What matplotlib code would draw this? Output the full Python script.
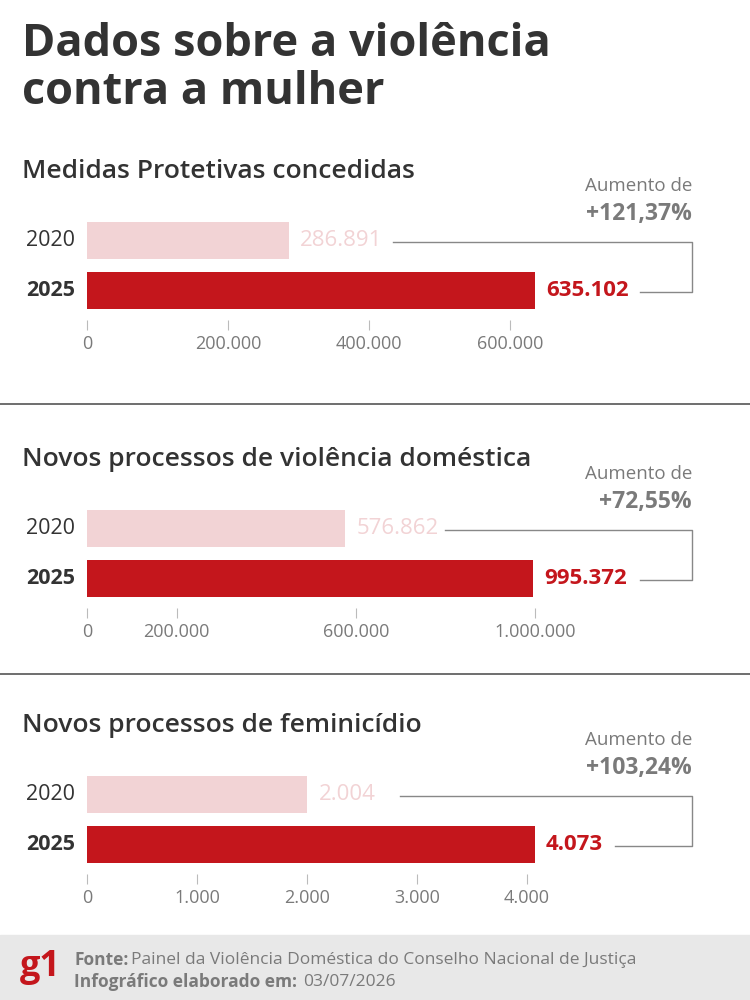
import matplotlib.pyplot as plt

plt.rcParams['font.family'] = ['Open Sans', 'DejaVu Sans']

titles = ['Medidas Protetivas concedidas',
          'Novos processos de violência doméstica',
          'Novos processos de feminicídio']
years = ['2020', '2025']
values = [[286891, 635102], [576862, 995372], [2004, 4073]]
value_labels = [['286.891', '635.102'], ['576.862', '995.372'], ['2.004', '4.073']]
increase = ['+121,37%', '+72,55%', '+103,24%']
ticks = [[0, 200000, 400000, 600000], [0, 200000, 600000, 1000000], [0, 1000, 2000, 3000, 4000]]
tick_labels = [['0', '200.000', '400.000', '600.000'],
               ['0', '200.000', '600.000', '1.000.000'],
               ['0', '1.000', '2.000', '3.000', '4.000']]

RED = '#C4161C'
PINK = '#F2D3D5'
GRAY = '#7a7a7a'
DARK = '#333333'

W, H = 750, 1000
fig = plt.figure(figsize=(7.5, 10), dpi=100)
bg = fig.add_axes([0, 0, 1, 1])
bg.set_xlim(0, W)
bg.set_ylim(H, 0)
bg.axis('off')

bg.text(22, 22, 'Dados sobre a violência\ncontra a mulher', fontsize=32.5, fontweight='bold',
        color=DARK, va='top', ha='left', linespacing=1.1)

# panel layout: subtitle row in px
tops = [172, 460, 726]
for i, top in enumerate(tops):
    bg.text(22, top, titles[i], fontsize=19, fontweight='semibold', color=DARK, va='center')
    bg.text(692, top + 14, 'Aumento de', fontsize=13.5, color=GRAY, ha='right', va='center')
    bg.text(692, top + 42, increase[i], fontsize=16.5, fontweight='bold', color=GRAY, ha='right', va='center')

    y_top = top + 38  # axes top (px)
    ax = fig.add_axes([87 / W, 1 - (y_top + 110) / H, 448 / W, 110 / H])
    vmax = max(values[i])
    ax.barh([0, 1], values[i], height=0.74, color=[PINK, RED])
    ax.set_xlim(0, vmax)
    ax.set_ylim(1.6, -0.6)
    ax.set_yticks([])
    ax.set_xticks(ticks[i])
    ax.set_xticklabels(tick_labels[i])
    ax.tick_params(axis='x', length=7, color='#bbbbbb', labelsize=13, labelcolor=GRAY, pad=4)
    for s in ax.spines.values():
        s.set_visible(False)
    ax.patch.set_alpha(0)

    for j in range(2):
        ax.text(-12 * vmax / 448, j, years[j], fontsize=15.5, ha='right', va='center', color=DARK,
                fontweight='bold' if j else 'normal')
        ax.text(values[i][j] + 11 * vmax / 448, j, value_labels[i][j], fontsize=16, va='center',
                color=PINK if j == 0 else RED, fontweight='bold' if j else 'normal')

    # bracket (px): y of bar centres
    y0 = y_top + 110 * (0.6 / 2.2) + 2
    y1 = y0 + 50
    x_start0 = [393, 445, 400][i]
    x_start1 = [640, 640, 615][i]
    bg.plot([x_start0, 692, 692, x_start1], [y0, y0, y1, y1], color='#888888', lw=1)

for y in [404, 674]:
    bg.plot([0, W], [y, y], color='#555555', lw=1.2)

bg.add_patch(plt.Rectangle((0, 935), W, 65, color='#e8e8e8', zorder=0))
bg.text(20, 967, 'g1', fontsize=26, fontweight='bold', color=RED, va='center')
bg.text(74, 960, 'Fonte:', fontsize=12.5, fontweight='bold', color=GRAY, va='center')
bg.text(131, 960, 'Painel da Violência Doméstica do Conselho Nacional de Justiça', fontsize=12.5,
        color=GRAY, va='center')
bg.text(74, 982, 'Infográfico elaborado em:', fontsize=12.5, fontweight='bold', color=GRAY, va='center')
bg.text(303, 982, '03/07/2026', fontsize=12.5, color=GRAY, va='center')

fig.savefig('out.png', dpi=100)
